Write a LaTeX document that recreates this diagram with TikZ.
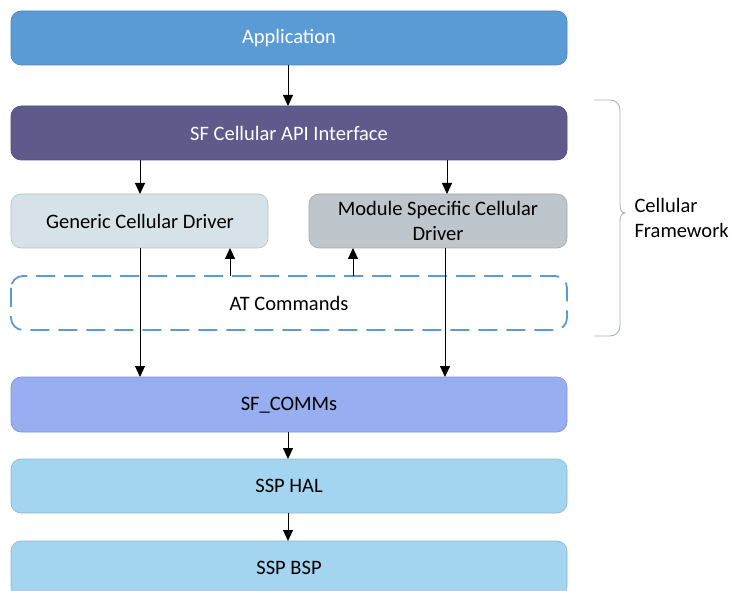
\documentclass[tikz,border=0pt]{standalone}
\usepackage{fontspec}
\setmainfont{Carlito}
\usetikzlibrary{arrows.meta}
\definecolor{appblue}{HTML}{5B9BD5}
\definecolor{apipurple}{HTML}{5F5A8B}
\definecolor{genfill}{HTML}{D6E1E8}
\definecolor{modfill}{HTML}{BEC6CC}
\definecolor{commsfill}{HTML}{97AEF0}
\definecolor{sspfill}{HTML}{A3D5F1}
\definecolor{bracegray}{HTML}{A9B1B8}
\begin{document}
\begin{tikzpicture}[x=1pt,y=-1pt,
  layer/.style={draw=#1!85!black, line width=0.6pt, fill=#1, rounded corners=10pt},
  lbl/.style={font=\fontsize{20.5}{25}\selectfont, align=center},
  flow/.style={-{Triangle[length=11pt,width=10pt]}, line width=0.9pt, black}]
\useasboundingbox (0,0) rectangle (732,591);

% stacked layers
\draw[layer=appblue] (11,11) rectangle (567,65);
\node[lbl, text=white] (app) at (289,38) {Application};

\draw[layer=apipurple] (11,106) rectangle (567,160);
\node[lbl, text=white] (api) at (289,133) {SF Cellular API Interface};

\draw[layer=genfill] (11,194) rectangle (268,248);
\node[lbl] (gen) at (140,221) {Generic Cellular Driver};

\draw[layer=modfill] (309,194) rectangle (567,248);
\node[lbl] (mod) at (438,221) {Module Specific Cellular\\Driver};

\draw[draw=appblue, line width=1.8pt, dash pattern=on 19pt off 9pt, rounded corners=12pt] (11,276) rectangle (567,330);
\node[lbl] (at) at (289,303) {AT Commands};

\draw[layer=commsfill] (11,377) rectangle (567,432);
\node[lbl] (comms) at (289,405) {SF\_COMMs};

\draw[layer=sspfill] (11,459) rectangle (567,513);
\node[lbl] (hal) at (289,486) {SSP HAL};

\draw[layer=sspfill] (11,541) rectangle (567,597);
\node[lbl] (bsp) at (289,568) {SSP BSP};

% connectors
\draw[flow] (288,65) -- (288,106);
\draw[flow] (140,160) -- (140,194);
\draw[flow] (447,160) -- (447,194);
\draw[flow] (140,248) -- (140,377);
\draw[flow] (445,248) -- (445,377);
\draw[flow] (230,276) -- (230,248);
\draw[flow] (353,276) -- (353,248);
\draw[flow] (288,432) -- (288,459);
\draw[flow] (288,513) -- (288,541);

% framework brace
\draw[bracegray, line width=0.9pt]
  (594,100) -- (610,100) to[out=0,in=90] (620,110) -- (620,205)
  to[out=-90,in=180] (625,213) to[out=180,in=90] (620,221) -- (620,326)
  to[out=-90,in=0] (610,336) -- (594,336);
\node[lbl, align=left, anchor=west] (fw) at (631,218) {Cellular\\Framework};
\end{tikzpicture}
\end{document}
